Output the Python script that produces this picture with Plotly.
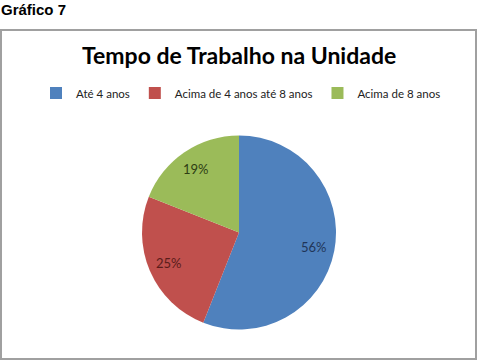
import math
import plotly.graph_objects as go

categories = ["Até 4 anos", "Acima de 4 anos até 8 anos", "Acima de 8 anos"]
values = [56, 25, 19]
colors = ["#4F81BD", "#C0504D", "#9BBB59"]
label_colors = ["#1F3558", "#5A1C1A", "#2E3D14"]

W, H = 480, 361

def px(x):
    return x / W

def py(y):
    return 1 - y / H

# pie geometry (pixels)
CX, CY, R = 239, 232.5, 97
LABEL_R = 0.79

fig = go.Figure(go.Pie(
    labels=categories,
    values=values,
    sort=False,
    direction="clockwise",
    rotation=0,
    marker=dict(colors=colors, line=dict(width=0)),
    textinfo="none",
    domain=dict(x=[px(CX - R), px(CX + R)], y=[py(CY + R), py(CY - R)]),
    hoverinfo="label+percent",
))

# data labels placed along each slice's bisector (angles derived from values)
total = sum(values)
annotations = []
cum = 0
for v, c in zip(values, label_colors):
    mid = (cum + v / 2) / total * 2 * math.pi  # clockwise from 12 o'clock
    cum += v
    lx = CX + LABEL_R * R * math.sin(mid)
    ly = CY - LABEL_R * R * math.cos(mid)
    annotations.append(dict(
        text=f"{round(v / total * 100)}%", xref="paper", yref="paper",
        x=px(lx), y=py(ly), xanchor="center", yanchor="middle",
        showarrow=False, font=dict(family="Lato", size=13, color=c)))

annotations += [
    dict(text="<b>Gráfico 7</b>", xref="paper", yref="paper",
         x=px(67), y=py(0), xanchor="right", yanchor="top",
         showarrow=False, borderpad=0,
         font=dict(family="Liberation Sans", size=15, color="black")),
    dict(text="<b>Tempo de Trabalho na Unidade</b>", xref="paper", yref="paper",
         x=px(239), y=py(55), xanchor="center", yanchor="middle",
         showarrow=False,
         font=dict(family="Lato", size=23, color="black")),
]

fig.update_layout(
    width=W, height=H,
    margin=dict(l=0, r=0, t=0, b=0),
    paper_bgcolor="white",
    plot_bgcolor="white",
    showlegend=True,
    legend=dict(
        orientation="h",
        x=px(241), xanchor="center",
        y=py(93), yanchor="middle",
        font=dict(family="Lato", size=11.5, color="#222"),
        itemwidth=30,
        traceorder="normal",
    ),
    shapes=[dict(
        type="rect", xref="paper", yref="paper",
        x0=px(1), x1=px(476), y0=py(359), y1=py(30),
        line=dict(color="#A0A0A0", width=2),
        fillcolor="rgba(0,0,0,0)",
    )],
    annotations=annotations,
)

fig.write_html("out.html")
